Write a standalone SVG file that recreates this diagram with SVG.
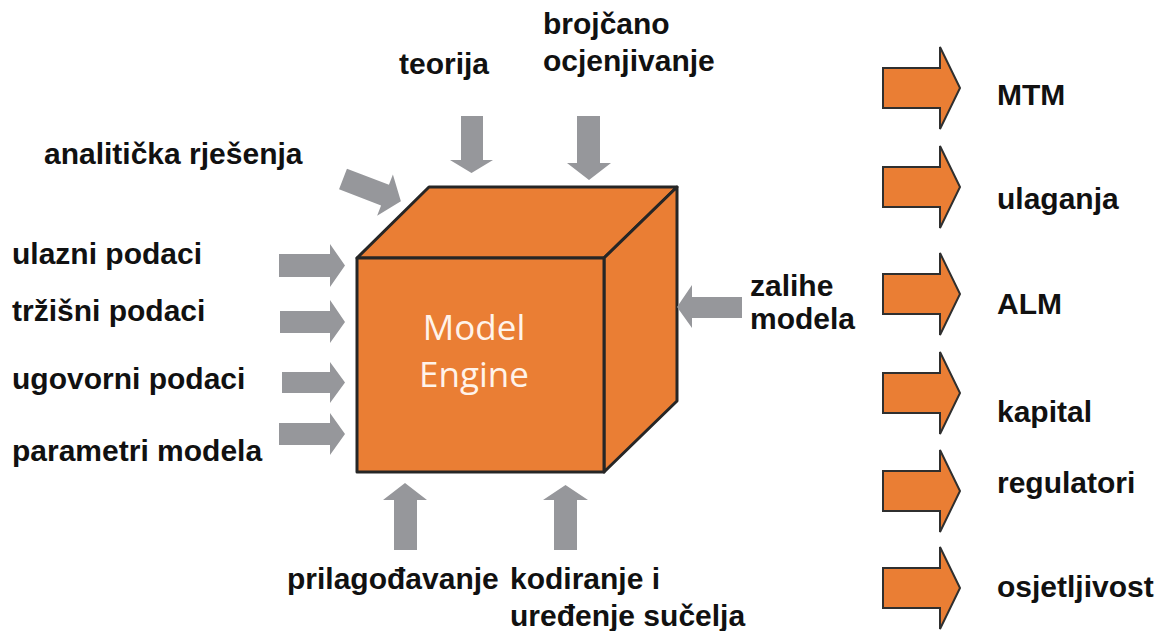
<svg xmlns="http://www.w3.org/2000/svg" width="1158" height="631" viewBox="0 0 1158 631">
<style>
.lbl{font-family:"Liberation Sans",Arial,sans-serif;font-weight:bold;font-size:30px;fill:#111}
.cube{fill:#EA7E34;stroke:#262626;stroke-width:3;stroke-linejoin:round}
.gin{fill:#96979B}
.oout{fill:#EA7E34;stroke:#2f2f2f;stroke-width:2;stroke-linejoin:miter}
.inner{font-family:"Open Sans","Noto Sans",sans-serif;font-size:35px;fill:#FFF3EA;text-anchor:middle}
</style>
<rect width="1158" height="631" fill="#ffffff"/>
<g id="model-engine">
<polygon class="cube" points="357,258 429,187 677,187 604,258"/>
<polygon class="cube" points="604,258 677,187 677,401 604,472"/>
<rect class="cube" x="357" y="258" width="247" height="214"/>
<text class="inner" x="474" y="340">Model</text>
<text class="inner" x="474" y="387">Engine</text>
</g>
<g id="connectors">
<polygon class="gin" points="461,116 483,116 483,160 493,160 471.5,173 450,160 461,160"/>
<polygon class="gin" points="577,116 600,116 600,163 611,163 589,180 567,163 577,163"/>
<polygon class="gin" transform="translate(343,179) rotate(21)" points="0,-11 45,-11 45,-22 62,0 45,22 45,11 0,11"/>
<polygon class="gin" points="279,254 330,254 330,244 345,265.5 330,287 330,277 279,277"/>
<polygon class="gin" points="280,311 330,311 330,300 345,322 330,343 330,333 280,333"/>
<polygon class="gin" points="282,372 330,372 330,362 345,382.5 330,403 330,393 282,393"/>
<polygon class="gin" points="279,423 330,423 330,413 345,434 330,455 330,445 279,445"/>
<polygon class="gin" points="394,550 417,550 417,500 427,500 405,483 383,500 394,500"/>
<polygon class="gin" points="554,550 577,550 577,500 588,500 565.5,485 543,500 554,500"/>
<polygon class="gin" points="742,297 742,318 692,318 692,328 677,307 692,285 692,297"/>
<polygon class="oout" points="883,68 940,68 940,47 960,88 940,129 940,108 883,108"/>
<polygon class="oout" points="883,167 940,167 940,146 960,187 940,228 940,207 883,207"/>
<polygon class="oout" points="883,274 940,274 940,253 960,294 940,335 940,314 883,314"/>
<polygon class="oout" points="883,373 940,373 940,352 960,393 940,434 940,413 883,413"/>
<polygon class="oout" points="883,471 940,471 940,450 960,491 940,532 940,511 883,511"/>
<polygon class="oout" points="883,568 940,568 940,547 960,588 940,629 940,608 883,608"/>
</g>
<g id="inputs">
<text class="lbl" x="44" y="164">analitička rješenja</text>
<text class="lbl" x="12" y="264">ulazni podaci</text>
<text class="lbl" x="12" y="321">tržišni podaci</text>
<text class="lbl" x="12" y="389">ugovorni podaci</text>
<text class="lbl" x="12" y="461">parametri modela</text>
<text class="lbl" x="399" y="74">teorija</text>
<text class="lbl" x="543" y="34">brojčano</text>
<text class="lbl" x="543" y="71">ocjenjivanje</text>
<text class="lbl" x="750" y="296">zalihe</text>
<text class="lbl" x="750" y="329">modela</text>
<text class="lbl" x="287" y="589">prilagođavanje</text>
<text class="lbl" x="510" y="589">kodiranje i</text>
<text class="lbl" x="510" y="626">uređenje sučelja</text>
</g>
<g id="outputs">
<text class="lbl" x="997" y="105">MTM</text>
<text class="lbl" x="997" y="209">ulaganja</text>
<text class="lbl" x="997" y="314">ALM</text>
<text class="lbl" x="997" y="422">kapital</text>
<text class="lbl" x="997" y="493">regulatori</text>
<text class="lbl" x="997" y="597">osjetljivost</text>
</g>
</svg>
